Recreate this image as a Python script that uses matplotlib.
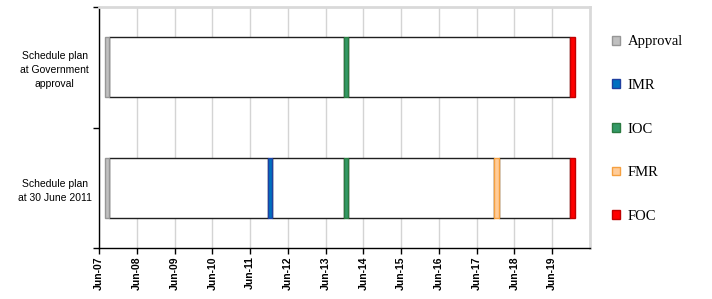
import numpy as np
import pandas as pd
import matplotlib
matplotlib.use('Agg')
import matplotlib.pyplot as plt
import matplotlib.dates as mdates
from matplotlib.patches import Patch

plans = ['Schedule plan\nat 30 June 2011', 'Schedule plan\nat Government\napproval']
milestones = ['Approval', 'IMR', 'IOC', 'FMR', 'FOC']
colors = ['#c0c0c0', '#0070c0', '#339966', '#ffcc99', '#ff0000']
edges = ['#969696', '#1f3f9f', '#2a7a40', '#f5a040', '#c00000']
# milestone dates per plan (None = not in that plan)
dates_2011 = ['2007-08-01', '2011-11-20', '2013-11-25', '2017-11-20', '2019-11-25']
dates_approval = ['2007-08-01', None, '2013-11-25', None, '2019-11-25']
marker_days = 40
tick_years = list(range(2007, 2020))

fig = plt.figure(figsize=(7.12, 2.99), dpi=100)
ax = fig.add_axes([99/712, 1 - 248/299, 491/712, 241/299])

for yi, dl in enumerate([dates_2011, dates_approval]):
    pts = [(i, mdates.date2num(pd.Timestamp(d))) for i, d in enumerate(dl) if d is not None]
    # white segments between markers
    for (i0, x0), (i1, x1) in zip(pts[:-1], pts[1:]):
        ax.barh(yi, x1 - (x0 + marker_days), left=x0 + marker_days, height=0.5,
                color='white', edgecolor='#202020', linewidth=1, zorder=2)
    for i, x in pts:
        ax.barh(yi, marker_days, left=x, height=0.5, color=colors[i],
                edgecolor=edges[i], linewidth=1, zorder=3)

ticks = [mdates.date2num(pd.Timestamp(f'{y}-06-01')) for y in tick_years]
ax.set_xlim(ticks[0], mdates.date2num(pd.Timestamp('2020-06-01')))
ax.set_xticks(ticks)
ax.set_xticklabels([f'Jun-{str(y)[2:]}' for y in tick_years], rotation=90,
                   fontweight='bold', fontsize=7.5, family='Liberation Sans')
ax.tick_params(axis='x', length=4, width=1, color='black', pad=2)
ax.grid(axis='x', color='#d4d4d4', linewidth=1, zorder=0)
ax.set_axisbelow(True)

ax.set_ylim(-0.5, 1.5)
ax.set_yticks([0, 1])
ax.set_yticklabels(plans, fontsize=7.5, family='Liberation Sans', ha='center',
                   multialignment='center', linespacing=1.5)
ax.tick_params(axis='y', which='major', length=0, pad=32)
ax.set_yticks([-0.5, 0.5, 1.5], minor=True)
ax.tick_params(axis='y', which='minor', length=4, width=1, color='black')

for s in ['top', 'right']:
    ax.spines[s].set_color('#d9d9d9')
    ax.spines[s].set_linewidth(2)
for s in ['left', 'bottom']:
    ax.spines[s].set_color('black')
    ax.spines[s].set_linewidth(1)

handles = [Patch(facecolor=c, edgecolor=e, label=m) for m, c, e in zip(milestones, colors, edges)]
fig.legend(handles=handles, loc='upper left', bbox_to_anchor=(605/712, 1 - 28/299),
           frameon=False, prop={'family': 'Liberation Serif', 'size': 10.5},
           handlelength=0.55, handleheight=0.55, handletextpad=0.5,
           labelspacing=2.1, borderpad=0)

fig.savefig('out.png', dpi=100)
